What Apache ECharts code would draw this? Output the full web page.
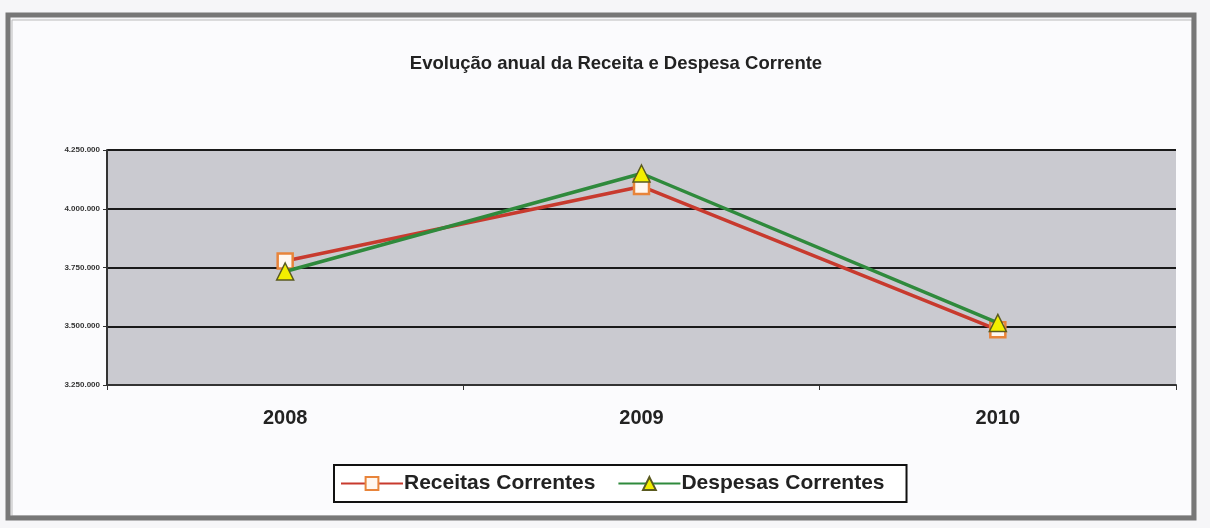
<!DOCTYPE html>
<html>
<head>
<meta charset="utf-8">
<script src="https://cdn.jsdelivr.net/npm/echarts@6/dist/echarts.min.js"></script>
<style>
html,body{margin:0;padding:0;background:#f6f6f8;}
#c{width:1210px;height:528px;}
</style>
</head>
<body>
<div id="c"></div>
<script>
const title = 'Evolução anual da Receita e Despesa Corrente';
const categories = ['2008', '2009', '2010'];
const receitas = [3778000, 4095000, 3485000];
const despesas = [3733000, 4150000, 3514000];
const yMin = 3250000, yMax = 4250000, yStep = 250000;
const seriesNames = ['Receitas Correntes', 'Despesas Correntes'];

function fmt(v){
  return String(Math.round(v)).replace(/\B(?=(\d{3})+(?!\d))/g, '.');
}

const chart = echarts.init(document.getElementById('c'), null, {renderer:'canvas'});
chart.setOption({
  backgroundColor: '#f6f6f8',
  animation: false,
  graphic: [
    {type:'rect', shape:{x:8, y:15, width:1186, height:503}, style:{fill:'none', stroke:'#777', lineWidth:5}, z:-10},
    {type:'rect', shape:{x:12, y:20, width:1180, height:496}, style:{fill:'#fbfbfd', stroke:'#bbb', lineWidth:1}, z:-11}
  ],
  title: {
    text: title, left: 611, top: 49, textAlign: 'center',
    textStyle: {fontFamily:'Liberation Sans Narrow, Liberation Sans, Arial', fontSize:18.5, fontWeight:'bold', color:'#222'}
  },
  grid: {left:107, right:34, top:150, bottom:143, show:true, backgroundColor:'#cacad0', borderWidth:0},
  legend: {
    data: seriesNames, left: 334, top: 465, height: 40,
    padding: [8, 22, 8, 6],
    borderColor:'#111', borderWidth:2, backgroundColor:'#fff',
    itemWidth: 62, itemHeight: 16, itemGap: 22,
    textStyle: {fontFamily:'Liberation Sans, Arial', fontSize:21, fontWeight:'bold', color:'#222', padding:[0,0,0,-4]}
  },
  xAxis: {
    type:'category', data: categories, boundaryGap: true,
    axisLine: {show:true, lineStyle:{color:'#333', width:2}},
    axisTick: {show:true, length:5, lineStyle:{color:'#333', width:1}},
    axisLabel: {margin:23, fontFamily:'Liberation Sans, Arial', fontSize:20, fontWeight:'bold', color:'#222'}
  },
  yAxis: {
    type:'value', min: yMin, max: yMax, interval: yStep,
    axisLine: {show:true, lineStyle:{color:'#333', width:2}},
    axisTick: {show:true, length:4, lineStyle:{color:'#333'}},
    splitLine: {show:true, lineStyle:{color:'#1a1a1a', width:2}},
    axisLabel: {margin:7, fontFamily:'Liberation Sans, Arial', fontSize:8, fontWeight:'bold', color:'#333', formatter: fmt}
  },
  series: [
    {
      name: seriesNames[0], type:'line', data: receitas,
      symbol:'rect', symbolSize:15,
      lineStyle:{color:'#c83a2e', width:3.5},
      itemStyle:{color:'#fff7f0', borderColor:'#e8843a', borderWidth:2.5},
      z: 2
    },
    {
      name: seriesNames[1], type:'line', data: despesas,
      symbol:'triangle', symbolSize:17,
      lineStyle:{color:'#2f8a3c', width:3.5},
      itemStyle:{color:'#f2ee00', borderColor:'#5a5a20', borderWidth:1.5},
      z: 3
    }
  ]
});
</script>
</body>
</html>
